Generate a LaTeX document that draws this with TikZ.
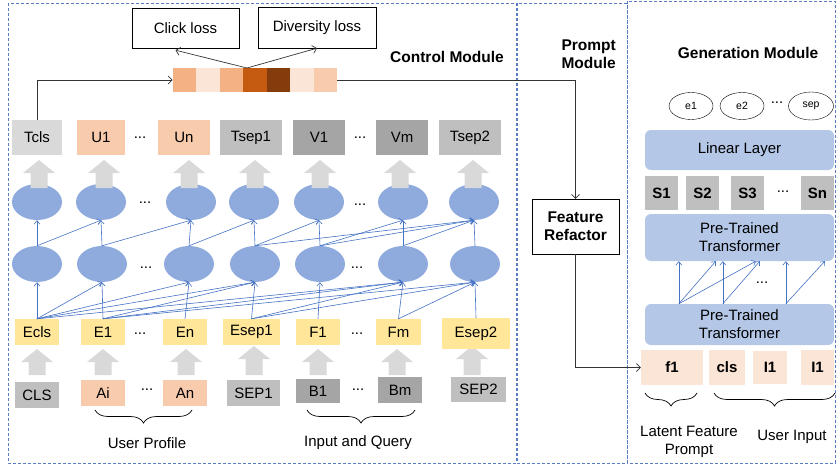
\documentclass[tikz,border=0pt]{standalone}
\usepackage{fontspec}
\setmainfont{Liberation Sans}
\usetikzlibrary{positioning,calc,shapes.geometric,decorations.pathreplacing,arrows.meta}

\definecolor{ellblue}{HTML}{8FAADC}
\definecolor{flowblue}{HTML}{4472C4}
\definecolor{boxblue}{HTML}{B4C7E7}
\definecolor{frameblue}{HTML}{5B7BC0}
\definecolor{lgray}{HTML}{D9D9D9}
\definecolor{mgray}{HTML}{BFBFBF}
\definecolor{dgray}{HTML}{A5A5A5}
\definecolor{peach}{HTML}{F8CBAD}
\definecolor{palepeach}{HTML}{FBE5D6}
\definecolor{embyellow}{HTML}{FFE699}
\definecolor{orangeA}{HTML}{F4B183}
\definecolor{orangeB}{HTML}{C55A11}
\definecolor{orangeC}{HTML}{843C0C}

\begin{document}
\begin{tikzpicture}[x = 1pt, y = -1pt,
    every node/.style = {font = \fontsize{15}{18}\selectfont, inner sep = 0pt},
    tok/.style = {minimum width = 44pt, minimum height = 26pt},
    cell/.style = {ellipse, fill = ellblue, minimum width = 50pt, minimum height = 36pt},
    module/.style = {draw = frameblue, line width = 0.7pt, dash pattern = on 3pt off 2pt},
    title/.style = {font = \fontsize{15.5}{18}\selectfont\bfseries},
    layer/.style = {fill = boxblue, rounded corners = 6pt, minimum width = 189pt, align = center},
    flow/.style = {-{Straight Barb[length = 3.5pt, width = 6pt]}, draw = flowblue, line width = 0.6pt},
    conn/.style = {-{Straight Barb[length = 4pt, width = 8pt]}, draw = black!80, line width = 0.7pt},
    brace/.style = {decorate, decoration = {brace, amplitude = 13pt}, line width = 0.7pt}]
    \useasboundingbox (0,0) rectangle (837,468);

    % module frames
    \draw[module] (8,3) rectangle (516,463);
    \draw[module] (517,3) rectangle (627,463);
    \draw[module] (627,1) rectangle (835,463);
    \node[title] at (447,57) {Control Module};
    \node[title, align = right, anchor = east] at (616,54) {Prompt\\Module};
    \node[title] at (748,53) {Generation Module};

    % losses and control vector
    \node[draw, minimum width = 107pt, minimum height = 40pt] (click) at (185.5,28) {Click loss};
    \node[draw, minimum width = 118pt, minimum height = 41pt] (divers) at (317,27.5) {Diversity loss};
    \foreach \c [count = \i] in {orangeA, palepeach, orangeA, orangeB, orangeC, palepeach, peach}
        \node[fill = \c, minimum width = 23.6pt, minimum height = 24pt] (c\i) at (161.3+\i*23.43,80) {};
    \coordinate (split) at (247,68);
    \draw[conn] (split) -- ($(click.south)+(-10,2)$);
    \draw[conn] (split) -- (divers.south);

    % output tokens
    \foreach \n/\x/\w/\c/\t in {tcls/37/50/lgray/Tcls, u1/101/48/peach/U1, un/184/52/peach/Un,
            tsep1/251/62/mgray/Tsep1, v1/319/52/dgray/V1, vm/402/52/dgray/Vm, tsep2/470/62/mgray/Tsep2}
        \node[tok, fill = \c, minimum width = \w pt, minimum height = 35pt] (\n) at (\x,137.5) {\t};
    \node at (140,138) {...};
    \node at (360,138) {...};

    % encoder cells
    \foreach \x [count = \i from 0] in {37,101,191,254,319,403,474}
        \node[cell] (u\i) at (\x,202) {};
    \foreach \x [count = \i from 0] in {37,102,189,255,320,403,475}
        \node[cell] (l\i) at (\x,264) {};
    \node at (145,203) {...};
    \node at (360,205) {...};
    \node at (146,268) {...};
    \node at (357,268) {...};

    % block arrows
    \foreach \x/\t/\b in {39/160/188, 104/160/188, 189/160/188, 255/160/188, 320/160/188, 400/160/188, 473/160/188,
            37/349/375, 103/349/375, 186/349/375, 254/346/375, 318/349/375, 397/349/375, 472/346/375}
        \fill[lgray] (\x-8.5,\b) -- (\x-8.5,\t+13) -- (\x-16,\t+13) -- (\x,\t)
            -- (\x+16,\t+13) -- (\x+8.5,\t+13) -- (\x+8.5,\b) -- cycle;

    % embeddings
    \foreach \n/\x/\w/\t in {e0/37/44/Ecls, e1/103/44/E1, e2/185/44/En, e3/251.5/57/Esep1,
            e4/318/44/F1, e5/398.5/45/Fm}
        \node[tok, fill = embyellow, minimum width = \w pt] (\n) at (\x,332) {\t};
    \node[tok, fill = embyellow, minimum width = 68pt, minimum height = 31pt] (e6) at (476,333.5) {Esep2};
    \node at (140,334) {...};
    \node at (357,334) {...};

    % inputs
    \node[tok, fill = mgray] (cls) at (37,395) {CLS};
    \node[tok, fill = peach] (ai) at (103,393) {Ai};
    \node[tok, fill = peach] (an) at (185,393) {An};
    \node[tok, fill = mgray, minimum width = 53pt] (sep1) at (253.5,393) {SEP1};
    \node[tok, fill = dgray, minimum height = 24pt] (b1) at (318,391) {B1};
    \node[tok, fill = dgray] (bm) at (400,390) {Bm};
    \node[tok, fill = mgray, minimum width = 55pt, minimum height = 25pt] (sep2) at (478.5,389.5) {SEP2};
    \node at (147,390) {...};
    \node at (358,390) {...};

    \draw[brace] (192,410) -- (95,410);
    \draw[brace] (415,410) -- (307,410);
    \node at (147,443) {User Profile};
    \node at (358,443) {Input and Query};

    % attention links
    \foreach \i/\j in {0/0, 0/1, 1/1, 1/2, 2/2, 2/3, 3/3, 3/4, 3/6, 4/4, 4/5, 4/6, 5/5, 5/6, 6/6}
        \draw[flow] (l\i.north) -- (u\j.south);
    \foreach \i/\j in {0/0, 0/1, 0/2, 0/3, 0/5, 1/1, 1/3, 1/5, 1/6, 2/2, 3/3, 3/5, 3/6, 4/4, 5/5, 5/6, 6/6}
        \draw[flow] (e\i.north) -- (l\j.south);

    % prompt module
    \node[draw, title, align = center, minimum width = 87pt, minimum height = 55pt] (refactor) at (575.5,226.5) {Feature\\Refactor};
    \draw[conn] (tcls.north) |- (c1.west);
    \draw[conn] (c7.east) -| (refactor.north);

    % generation module
    \node[draw, ellipse, minimum width = 44pt, minimum height = 27pt, font = \fontsize{10.5}{12}\selectfont] (o1) at (691,106) {e1};
    \node[draw, ellipse, minimum width = 44pt, minimum height = 27pt, font = \fontsize{10.5}{12}\selectfont] (o2) at (742,106) {e2};
    \node[draw, ellipse, minimum width = 45pt, minimum height = 28pt, font = \fontsize{10.5}{12}\selectfont] (osep) at (811,106) {sep};
    \node at (777,103) {...};
    \node[layer, minimum height = 40pt] (linear) at (739.5,150) {Linear Layer};
    \foreach \n/\x/\t in {s1/661.5/S1, s2/702.5/S2, s3/747.5/S3, sn/817.5/Sn}
        \node[fill = mgray, font = \fontsize{15}{18}\selectfont\bfseries, minimum width = 33pt, minimum height = 34pt] (\n) at (\x,193) {\t};
    \node at (783,192) {...};
    \node[layer, minimum height = 47pt] (ptup) at (739.5,237.5) {Pre-Trained\\Transformer};
    \node[layer, minimum height = 41pt] (ptlow) at (739.5,324.5) {Pre-Trained\\Transformer};
    \foreach \a/\b in {34/34, 34/71, 34/111, 78/78, 78/115, 141/141, 141/180}
        \draw[flow] ($(ptlow.north west)+(\a,0)$) -- ($(ptup.south west)+(\b,0)$);
    \node at (762,283) {...};

    \foreach \n/\x/\w/\h/\t in {f1/672/62/35/f1, gcls/727/36/35/cls, i1/770/34/33/I1, i2/817.5/33/35/I1}
        \node[fill = palepeach, font = \fontsize{15}{18}\selectfont\bfseries, minimum width = \w pt, minimum height = \h pt] (\n) at (\x,367.5) {\t};
    \draw[conn] (refactor.south) |- (f1.west);

    \draw[brace] (697,393) -- (645,393);
    \draw[brace] (835,393) -- (714,393);
    \node[align = center] at (689,442) {Latent Feature\\Prompt};
    \node at (792,437) {User Input};
\end{tikzpicture}
\end{document}
